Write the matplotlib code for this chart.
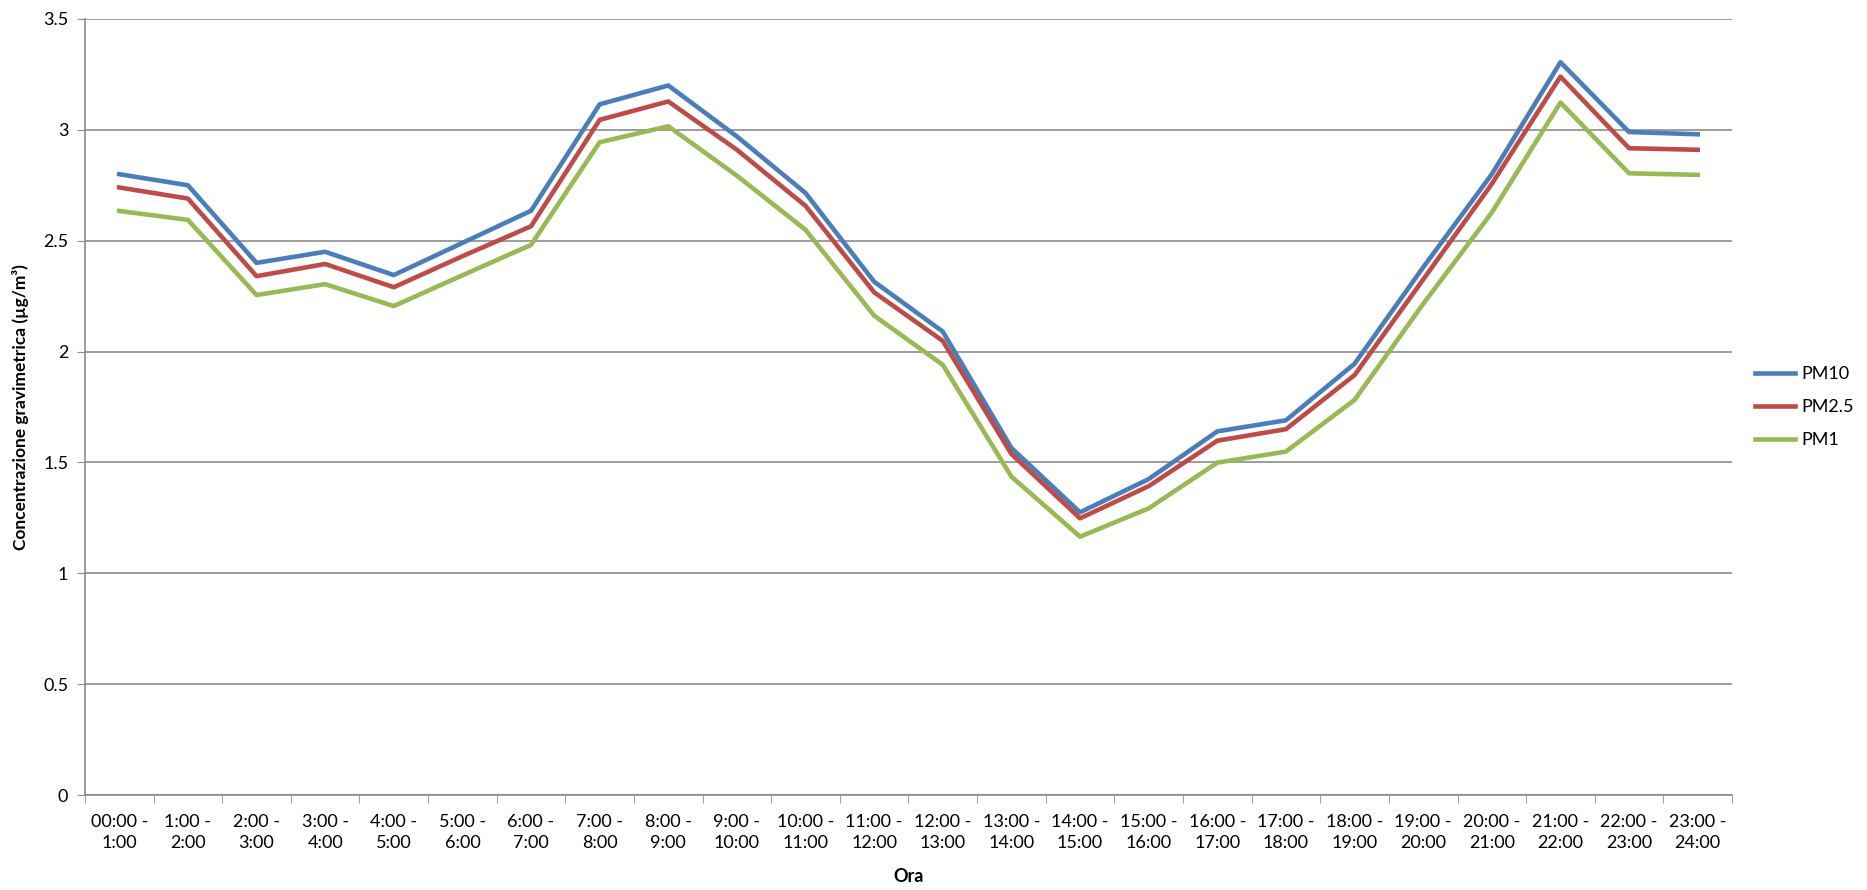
import numpy as np
import matplotlib
matplotlib.use("Agg")
import matplotlib.pyplot as plt

plt.rcParams['font.family'] = ['Lato', 'DejaVu Sans']

# fasce orarie
ore = ["00:00 -\n1:00", "1:00 -\n2:00", "2:00 -\n3:00", "3:00 -\n4:00", "4:00 -\n5:00",
       "5:00 -\n6:00", "6:00 -\n7:00", "7:00 -\n8:00", "8:00 -\n9:00", "9:00 -\n10:00",
       "10:00 -\n11:00", "11:00 -\n12:00", "12:00 -\n13:00", "13:00 -\n14:00", "14:00 -\n15:00",
       "15:00 -\n16:00", "16:00 -\n17:00", "17:00 -\n18:00", "18:00 -\n19:00", "19:00 -\n20:00",
       "20:00 -\n21:00", "21:00 -\n22:00", "22:00 -\n23:00", "23:00 -\n24:00"]

pm10 = [2.80, 2.75, 2.40, 2.45, 2.345, 2.49, 2.635, 3.115, 3.20, 2.97, 2.715, 2.315,
        2.09, 1.565, 1.275, 1.425, 1.64, 1.69, 1.945, 2.38, 2.80, 3.305, 2.99, 2.98]
pm25 = [2.74, 2.69, 2.34, 2.395, 2.29, 2.43, 2.565, 3.045, 3.128, 2.91, 2.657, 2.267,
        2.048, 1.538, 1.248, 1.393, 1.598, 1.65, 1.894, 2.325, 2.756, 3.24, 2.917, 2.91]
pm1 = [2.634, 2.594, 2.255, 2.304, 2.205, 2.344, 2.481, 2.944, 3.016, 2.793, 2.549, 2.162,
       1.94, 1.436, 1.165, 1.293, 1.499, 1.549, 1.782, 2.215, 2.627, 3.123, 2.804, 2.797]

x = np.arange(len(ore))

fig = plt.figure(figsize=(18.67, 8.9), dpi=100)
ax = fig.add_axes([0.0455, 0.1067, 0.8822, 0.872])

ax.plot(x, pm10, color='#4A7EBB', lw=3.3, label='PM10')
ax.plot(x, pm25, color='#BE4B48', lw=3.3, label='PM2.5')
ax.plot(x, pm1, color='#98B954', lw=3.3, label='PM1')

ax.set_xlim(-0.5, len(ore) - 0.5)
ax.set_ylim(0, 3.5)
ax.set_yticks(np.arange(0, 3.51, 0.5))
ax.set_yticklabels(['0', '0.5', '1', '1.5', '2', '2.5', '3', '3.5'], fontsize=13)
ax.yaxis.grid(True, color='#8C8C8C', lw=1.2)
ax.set_axisbelow(True)

# etichette centrate, tacche ai bordi delle categorie
ax.set_xticks(x)
ax.set_xticklabels(ore, fontsize=13, linespacing=1.35)
ax.tick_params(axis='x', length=0, pad=14)
ax.set_xticks(np.arange(-0.5, len(ore)), minor=True)
ax.tick_params(axis='x', which='minor', length=6, color='#8C8C8C')
ax.tick_params(axis='y', length=6, color='#8C8C8C', pad=6)

for s in ['top', 'right']:
    ax.spines[s].set_visible(False)
for s in ['left', 'bottom']:
    ax.spines[s].set_color('#8C8C8C')
    ax.spines[s].set_linewidth(1.2)

ax.set_xlabel('Ora', fontsize=13, fontweight='bold', labelpad=12)
ax.set_ylabel('Concentrazione gravimetrica (µg/m³)', fontsize=12.5, fontweight='bold', labelpad=10)

ax.legend(loc='center left', bbox_to_anchor=(1.004, 0.5), frameon=False, fontsize=13,
          handlelength=2.2, handletextpad=0.4, labelspacing=0.95)

fig.savefig('out.png', dpi=100)
